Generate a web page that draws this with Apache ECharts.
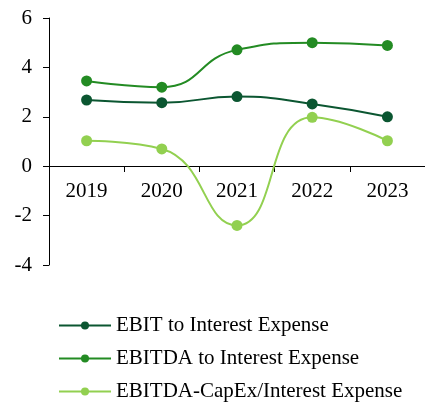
<!DOCTYPE html>
<html>
<head>
<meta charset="utf-8">
<script src="https://cdn.jsdelivr.net/npm/echarts@6/dist/echarts.min.js"></script>
<style>
  html, body { margin: 0; padding: 0; background: #fff; }
  #chart { width: 425px; height: 408px; }
</style>
</head>
<body>
<div id="chart"></div>
<script>
const years = ['2019', '2020', '2021', '2022', '2023']
const ebitInterest = [2.68, 2.57, 2.82, 2.52, 2.0]
const ebitdaInterest = [3.45, 3.2, 4.71, 5.0, 4.89]
const ebitdaCapexInterest = [1.03, 0.7, -2.4, 1.98, 1.03]
const yTicks = [-4, -2, 0, 2, 4, 6]

const font = 'Liberation Serif, Times New Roman, serif'

function line(name, data, color) {
  return {
    name: name,
    type: 'line',
    smooth: 0.5,
    data: data,
    symbol: 'circle',
    symbolSize: 11,
    lineStyle: { width: 2, color: color },
    itemStyle: { color: color },
    animation: false
  }
}

const chart = echarts.init(document.getElementById('chart'))
chart.setOption({
  grid: { left: 49, width: 381, top: 18, height: 247 },
  legend: {
    orient: 'vertical',
    left: 58,
    top: 315,
    padding: 0,
    itemWidth: 52,
    itemHeight: 10,
    itemGap: 12,
    textStyle: { fontFamily: font, fontSize: 21, color: '#000' },
    data: ['EBIT to Interest Expense', 'EBITDA to Interest Expense', 'EBITDA-CapEx/Interest Expense']
  },
  xAxis: {
    type: 'category',
    data: years,
    position: 'bottom',
    offset: -99,
    axisLine: { onZero: false, lineStyle: { color: '#000', width: 1 } },
    axisTick: { show: true, length: 6, lineStyle: { color: '#000' } },
    axisLabel: { fontFamily: font, fontSize: 21, color: '#000', margin: 15 },
    splitLine: { show: false }
  },
  yAxis: {
    type: 'value',
    min: yTicks[0],
    max: yTicks[yTicks.length - 1],
    interval: 2,
    axisLine: { show: true, lineStyle: { color: '#000', width: 1 } },
    axisTick: { show: true, length: 6, lineStyle: { color: '#000' } },
    axisLabel: { fontFamily: font, fontSize: 21, color: '#000', margin: 17 },
    splitLine: { show: false }
  },
  series: [
    line('EBIT to Interest Expense', ebitInterest, '#0b5631'),
    line('EBITDA to Interest Expense', ebitdaInterest, '#238b23'),
    line('EBITDA-CapEx/Interest Expense', ebitdaCapexInterest, '#92d050')
  ]
})
</script>
</body>
</html>
